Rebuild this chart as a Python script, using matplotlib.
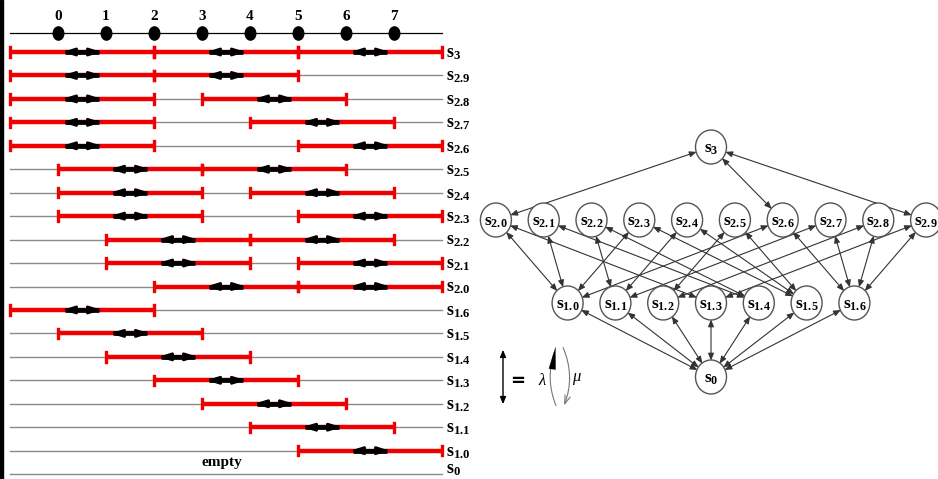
import numpy as np
import matplotlib
matplotlib.use('Agg')
from matplotlib import pyplot as plt
from matplotlib.patches import Ellipse, FancyArrowPatch, Rectangle
from matplotlib.path import Path
from matplotlib.transforms import Affine2D

plt.rcParams['mathtext.fontset'] = 'custom'
plt.rcParams['mathtext.rm'] = 'Liberation Serif'
plt.rcParams['mathtext.it'] = 'Liberation Serif:italic'
plt.rcParams['mathtext.bf'] = 'Liberation Serif:bold'

# positions on the top line
positions = list(range(8))

# each state: label and the start positions of its length-3 intervals
state_labels = ['3', '2.9', '2.8', '2.7', '2.6', '2.5', '2.4', '2.3', '2.2', '2.1', '2.0',
                '1.6', '1.5', '1.4', '1.3', '1.2', '1.1', '1.0', '0']
state_starts = [[-1, 2, 5], [-1, 2], [-1, 3], [-1, 4], [-1, 5], [0, 3], [0, 4], [0, 5],
                [1, 4], [1, 5], [2, 5], [-1], [0], [1], [2], [3], [4], [5], []]
interval_len = 3

# graph: levels and transitions (lambda up / mu down)
level3 = ['3']
level2 = ['2.0', '2.1', '2.2', '2.3', '2.4', '2.5', '2.6', '2.7', '2.8', '2.9']
level1 = ['1.0', '1.1', '1.2', '1.3', '1.4', '1.5', '1.6']
level0 = ['0']
edges = [('3', '2.0'), ('3', '2.6'), ('3', '2.9'),
         ('2.0', '1.3'), ('2.0', '1.0'), ('2.1', '1.4'), ('2.1', '1.0'),
         ('2.2', '1.4'), ('2.2', '1.1'), ('2.3', '1.5'), ('2.3', '1.0'),
         ('2.4', '1.5'), ('2.4', '1.1'), ('2.5', '1.5'), ('2.5', '1.2'),
         ('2.6', '1.6'), ('2.6', '1.0'), ('2.7', '1.6'), ('2.7', '1.1'),
         ('2.8', '1.6'), ('2.8', '1.2'), ('2.9', '1.6'), ('2.9', '1.3')] + \
        [(s, '0') for s in level1]

W, H = 938, 479
fig = plt.figure(figsize=(W / 100, H / 100), dpi=100)

# ---------------- left panel: interval diagram ----------------
ax = fig.add_axes([0, 0, 470 / W, 1])
px0, pxu = 58, 48          # pixel of position 0, pixels per unit
py0, pyu = 52, 23.45       # pixel of first row, pixels per row
ax.set_xlim(-px0 / pxu, (470 - px0) / pxu)
ax.set_ylim((H - py0) / pyu, -py0 / pyu)
ax.axis('off')

red = '#f00000'
xl, xr = -1, 8
axis_row = (33 - py0) / pyu
ax.plot([xl, xr], [axis_row, axis_row], color='black', lw=0.9)
dot = Path.unit_circle().transformed(Affine2D().scale(0.8, 1.0))
ax.plot(positions, [axis_row] * len(positions), ls='none', marker=dot,
        ms=9.5, color='black')
for p in positions:
    ax.text(p, axis_row - 0.72, str(p), ha='center', va='center',
            family='Liberation Serif', fontweight='bold', fontsize=11)

last = len(state_labels) - 1
for r, (lab, starts) in enumerate(zip(state_labels, state_starts)):
    ax.plot([xl, xr], [r, r], color='#8a8a8a', lw=1.0, zorder=1)
    for a in starts:
        b = a + interval_len
        ax.plot([a, b], [r, r], color=red, lw=3.2, solid_capstyle='butt', zorder=2)
        for e in (a, b):
            ax.plot([e, e], [r - 0.2, r + 0.2], color=red, lw=2.4, zorder=3)
        ax.plot([a + 1.15, a + 1.85], [r, r], color='black', lw=3.4,
                solid_capstyle='butt', zorder=4)
        arr = FancyArrowPatch((a + 1.03, r), (a + 1.97, r),
                              arrowstyle='<|-|>,head_length=0.7,head_width=0.22',
                              mutation_scale=10, color='black', lw=2.0, zorder=4)
        ax.add_patch(arr)
    dy = 0.22 if r < last else -0.02
    ax.text(8.08, r + dy, r'$\mathbf{s}_{\mathbf{%s}}$' % lab, ha='left',
            va='baseline', fontsize=13)

ax.text(3.42, 17.5, 'empty', ha='center', va='center', family='Liberation Serif',
        fontweight='bold', fontsize=11)

# ---------------- right panel: state graph ----------------
gx = fig.add_axes([470 / W, 0, 468 / W, 1])
gx.set_xlim(470, 938)
gx.set_ylim(H, 0)
gx.axis('off')

cx, spacing = 711, 47.8
level_y = [377, 303, 220, 147]
nodes = {}
for lev, names in enumerate([level0, level1, level2, level3]):
    n = len(names)
    for j, name in enumerate(names):
        x = cx + (j - (n - 1) / 2) * spacing
        y = level_y[lev]
        el = Ellipse((x, y), 31, 34, facecolor='white', edgecolor='#555555',
                     lw=1.0, zorder=3)
        gx.add_patch(el)
        gx.text(x, y + 1, r'$\mathbf{s}_{\mathbf{%s}}$' % name, ha='center',
                va='center', fontsize=12.5, zorder=4)
        nodes[name] = (x, y, el)

for a, b in edges:
    xa, ya, ea = nodes[a]
    xb, yb, eb = nodes[b]
    arr = FancyArrowPatch((xa, ya), (xb, yb), patchA=ea, patchB=eb,
                          shrinkA=0, shrinkB=0,
                          arrowstyle='<|-|>,head_length=0.6,head_width=0.25',
                          mutation_scale=7, color='#333333', lw=0.8, zorder=2)
    gx.add_patch(arr)

# legend
gx.add_patch(FancyArrowPatch((503, 407), (503, 347),
                             arrowstyle='<|-|>,head_length=0.6,head_width=0.25',
                             mutation_scale=7, color='black', lw=1.0))
gx.text(518, 381, '=', ha='center', va='center', fontsize=13, fontweight='bold')
gx.text(543, 380, r'$\mathit{\lambda}$', ha='center', va='center', fontsize=12)
gx.text(577, 378, r'$\mathit{\mu}$', ha='center', va='center', fontsize=12)
gx.add_patch(FancyArrowPatch((557, 408), (555, 350),
                             connectionstyle='arc3,rad=-0.2',
                             arrowstyle='-', color='#777777', lw=0.8))
gx.add_patch(FancyArrowPatch((553, 364), (556, 344),
                             arrowstyle='-|>,head_length=1.6,head_width=0.25',
                             mutation_scale=10, color='black', lw=0.1))
gx.add_patch(FancyArrowPatch((562, 345), (563, 408),
                             connectionstyle='arc3,rad=-0.22',
                             arrowstyle='->,head_length=0.6,head_width=0.2',
                             mutation_scale=10, color='#777777', lw=0.8))

# dark strip at the left edge
fig.add_artist(Rectangle((0, 0), 3 / W, 1, transform=fig.transFigure,
                         color='black'))

fig.savefig('out.png', dpi=100)
